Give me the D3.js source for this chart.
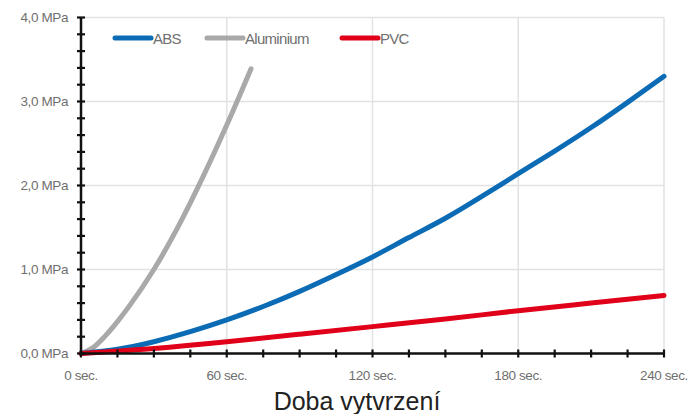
<!DOCTYPE html>
<html><head><meta charset="utf-8">
<script src="https://cdn.jsdelivr.net/npm/d3@7"></script>
<style>body{margin:0;background:#fff}svg{display:block}</style>
</head><body><svg id="c" width="692" height="414"></svg>
<script>
const seriesNames = ["ABS", "Aluminium", "PVC"];
const seriesColors = ["#0b6cb5", "#a9a9a9", "#e1001a"];
const absTime = [0,15,30,45,60,75,90,105,120,135,150,165,180,195,210,225,240];
const absVal  = [0,0.05,0.14,0.26,0.40,0.56,0.74,0.94,1.15,1.38,1.61,1.87,2.14,2.41,2.69,2.99,3.30];
const alTime = [0,5,10,15,20,30,40,50,60,70];
const alVal  = [0,0.07,0.21,0.38,0.57,1.0,1.51,2.09,2.72,3.39];
const pvcTime = [0,30,60,90,120,150,180,210,240];
const pvcVal  = [0,0.06,0.14,0.23,0.32,0.41,0.51,0.60,0.69];
const xTicks = [0,60,120,180,240];
const xTickLabels = ["0 sec.","60 sec.","120 sec.","180 sec.","240 sec."];
const yTicks = [0,1,2,3,4];
const yTickLabels = ["0,0 MPa","1,0 MPa","2,0 MPa","3,0 MPa","4,0 MPa"];
const xTitle = "Doba vytvrzení";

const svg = d3.select("#c");
const x = d3.scaleLinear().domain([0,240]).range([81,664]);
const y = d3.scaleLinear().domain([0,4]).range([353.5,17.5]);
const font = "'Liberation Sans', Arial, sans-serif";

// grid
const g = svg.append("g");
g.selectAll(".hg").data(yTicks.slice(1)).enter().append("line")
  .attr("x1",x(0)).attr("x2",x(240)).attr("y1",d=>y(d)).attr("y2",d=>y(d))
  .attr("stroke","#e2e2e2").attr("stroke-width",1.5);
g.selectAll(".vg").data(xTicks.slice(1)).enter().append("line")
  .attr("y1",y(0)).attr("y2",y(4)).attr("x1",d=>x(d)).attr("x2",d=>x(d))
  .attr("stroke","#e2e2e2").attr("stroke-width",1.5);

// lines
const series = [
  {t:absTime, v:absVal, c:d3.curveNatural},
  {t:alTime, v:alVal, c:d3.curveMonotoneX},
  {t:pvcTime, v:pvcVal, c:d3.curveNatural}
];
[1,0,2].forEach(i=>{
  const s = series[i];
  const line = d3.line().x(d=>x(d[0])).y(d=>y(d[1])).curve(s.c);
  svg.append("path").datum(s.t.map((t,j)=>[t,s.v[j]]))
    .attr("d",line).attr("fill","none").attr("stroke",seriesColors[i])
    .attr("stroke-width",5).attr("stroke-linecap","round");
});

// axes
const ax = svg.append("g");
ax.append("line").attr("x1",x(0)).attr("x2",x(0)).attr("y1",y(4)).attr("y2",y(0))
  .attr("stroke","#111").attr("stroke-width",2.5);
ax.append("line").attr("x1",x(0)).attr("x2",x(240)).attr("y1",y(0)).attr("y2",y(0))
  .attr("stroke","#111").attr("stroke-width",2.5);
ax.selectAll(".yt").data(d3.range(0,21).map(i=>i*0.2)).enter().append("line")
  .attr("x1",x(0)-4).attr("x2",x(0)+4).attr("y1",d=>y(d)).attr("y2",d=>y(d))
  .attr("stroke","#111").attr("stroke-width",2.2);
ax.selectAll(".xt").data(d3.range(0,17).map(i=>i*15)).enter().append("line")
  .attr("y1",y(0)-4).attr("y2",y(0)+4).attr("x1",d=>x(d)).attr("x2",d=>x(d))
  .attr("stroke","#111").attr("stroke-width",2.2);

svg.selectAll(".yl").data(yTicks).enter().append("text")
  .attr("x",68).attr("y",d=>y(d)+4.5).attr("text-anchor","end")
  .attr("font-family",font).attr("font-size",13.5).attr("fill","#6f6f6f")
  .attr("letter-spacing","-0.4").text((d,i)=>yTickLabels[i]);
svg.selectAll(".xl").data(xTicks).enter().append("text")
  .attr("x",d=>x(d)).attr("y",380).attr("text-anchor","middle")
  .attr("font-family",font).attr("font-size",13.5).attr("fill","#6f6f6f")
  .attr("letter-spacing","-0.4").text((d,i)=>xTickLabels[i]);
svg.append("text").attr("x",357).attr("y",410).attr("text-anchor","middle")
  .attr("font-family",font).attr("font-size",25).attr("fill","#222").text(xTitle);

// legend
const legX = [113,205,340];
seriesNames.forEach((n,i)=>{
  svg.append("line").attr("x1",legX[i]+2).attr("x2",legX[i]+38).attr("y1",38).attr("y2",38)
    .attr("stroke",seriesColors[i]).attr("stroke-width",5).attr("stroke-linecap","round");
  svg.append("text").attr("x",legX[i]+40).attr("y",43.5).attr("font-family",font)
    .attr("font-size",15).attr("fill","#6f6f6f").attr("letter-spacing","-0.7").text(n);
});
</script></body></html>
